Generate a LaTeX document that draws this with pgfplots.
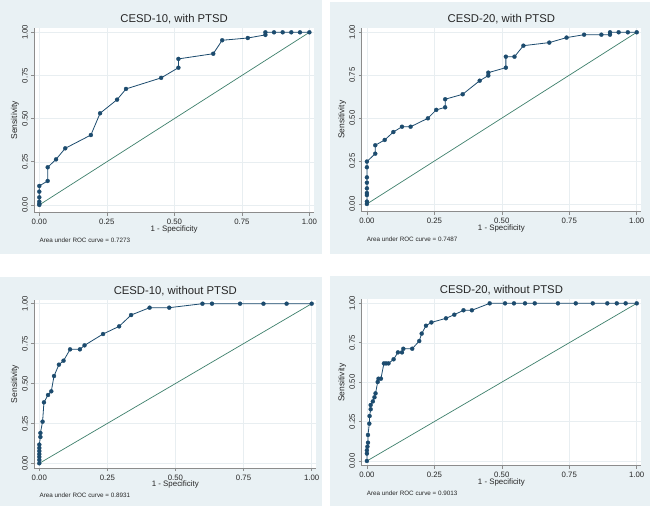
\documentclass[border=0pt]{standalone}
\usepackage{pgfplots}
\pgfplotsset{compat=1.18}
\usepackage{fontspec}
\setmainfont{Liberation Sans}
\definecolor{bgc}{HTML}{E9F1F4}
\definecolor{navyc}{HTML}{1C4B6E}
\definecolor{diagc}{HTML}{3E806C}
\definecolor{gridc}{HTML}{E8EEF1}
\definecolor{axisgray}{HTML}{8C8C8C}

\pgfplotsset{
  rocax/.style={
    scale only axis, clip=false,
    axis x line*=bottom, axis y line*=left,
    axis line style={draw=axisgray, line width=0.6pt, -},
    tick align=outside, major tick length=3pt,
    tick style={axisgray, line width=0.6pt},
    xtick={0,0.25,0.5,0.75,1}, ytick={0,0.25,0.5,0.75,1},
    xticklabels={0.00,0.25,0.50,0.75,1.00},
    yticklabels={0.00,0.25,0.50,0.75,1.00},
    grid=major, grid style={gridc, line width=0.5pt},
    axis background/.style={fill=white},
    ticklabel style={font=\fontsize{7.8}{9}\selectfont, text=black!85},
    yticklabel style={rotate=90, anchor=south},
    every axis title shift=0pt,
    title style={at={(0.5,1)}, anchor=center, yshift=9pt,
      font=\fontsize{11.3}{13}\selectfont, text=black!85},
    xlabel={1 - Specificity}, ylabel={Sensitivity},
    xlabel style={at={(0.5,0)}, anchor=center, yshift=-16.6pt,
      font=\fontsize{7.9}{9}\selectfont, text=black!85},
    ylabel style={at={(0,0.5)}, anchor=center, yshift=19.3pt,
      font=\fontsize{8.5}{9}\selectfont, text=black!85},
  },
  roc/.style={color=navyc, line width=0.8pt, mark=*, mark size=2pt,
    mark options={solid, fill=navyc, line width=0.3pt}},
}
\newcommand{\auc}[1]{\node[anchor=west, font=\fontsize{6.3}{7}\selectfont, text=black!85,
  xshift=1.8pt, yshift=-27.5pt] at (rel axis cs:0,0) {Area under ROC curve = #1};}

\begin{document}
\begin{tikzpicture}
\useasboundingbox (0pt,0pt) rectangle (652pt,512pt);
\fill[white] (0pt,0pt) rectangle (652pt,512pt);
\fill[bgc] (0pt,258pt) rectangle (322pt,512pt);
\fill[bgc] (330pt,258pt) rectangle (650pt,510pt);
\fill[bgc] (0pt,6pt) rectangle (322pt,235pt);
\fill[bgc] (330pt,6pt) rectangle (650pt,236pt);

% panel 1
\begin{axis}[rocax, at={(34.3pt,299.3pt)}, anchor=south west,
  width=279.7pt, height=184.7pt, xmin=-0.0185, xmax=1.017, ymin=-0.045, ymax=1.025,
  title={CESD-10, with PTSD}]
\addplot[diagc, line width=0.7pt] coordinates {(0,0) (1,1)};
\addplot[roc] coordinates {
 (0,0) (0,0.006) (0,0.019) (0,0.044) (0,0.077) (0,0.110)
 (0.031,0.139) (0.031,0.218) (0.062,0.264) (0.096,0.328) (0.191,0.405)
 (0.225,0.531) (0.288,0.610) (0.321,0.672) (0.451,0.736) (0.515,0.795)
 (0.515,0.846) (0.644,0.876) (0.677,0.954) (0.772,0.967) (0.837,0.985)
 (0.837,1) (0.869,1) (0.901,1) (0.933,1) (0.965,1) (1,1)
};
\auc{0.7273}
\end{axis}

% panel 2
\begin{axis}[rocax, at={(361.5pt,300.3pt)}, anchor=south west,
  width=279.8pt, height=183.7pt, xmin=-0.02, xmax=1.017, ymin=-0.045, ymax=1.025,
  title={CESD-20, with PTSD}]
\addplot[diagc, line width=0.7pt] coordinates {(0,0) (1,1)};
\addplot[roc] coordinates {
 (0,0) (0,0.014) (0,0.052) (0,0.064) (0,0.091) (0,0.124) (0,0.155)
 (0,0.214) (0,0.247) (0.031,0.293) (0.031,0.342) (0.066,0.373)
 (0.098,0.419) (0.130,0.450) (0.162,0.450) (0.226,0.499) (0.257,0.548)
 (0.290,0.563) (0.290,0.610) (0.355,0.639) (0.418,0.718) (0.450,0.748)
 (0.450,0.765) (0.515,0.794) (0.515,0.858) (0.547,0.858) (0.580,0.922)
 (0.676,0.940) (0.740,0.969) (0.805,0.986) (0.869,0.986) (0.901,0.986)
 (0.901,1) (0.933,1) (0.967,1) (1,1)
};
\auc{0.7487}
\end{axis}

% panel 3
\begin{axis}[rocax, at={(34.3pt,43.9pt)}, anchor=south west,
  width=282pt, height=168.4pt, xmin=-0.0184, xmax=1.017, ymin=-0.03, ymax=1.025,
  title={CESD-10, without PTSD}]
\addplot[diagc, line width=0.7pt] coordinates {(0,0) (1,1)};
\addplot[roc] coordinates {
 (0,0) (0,0.021) (0,0.040) (0,0.058) (0,0.077) (0,0.096) (0,0.117)
 (0.004,0.165) (0.004,0.190) (0.012,0.261) (0.017,0.382) (0.032,0.428)
 (0.044,0.451) (0.054,0.547) (0.072,0.618) (0.089,0.643) (0.113,0.714)
 (0.149,0.714) (0.166,0.739) (0.234,0.810) (0.293,0.858) (0.337,0.929)
 (0.405,0.975) (0.477,0.975) (0.599,1) (0.634,1) (0.737,1) (0.823,1)
 (0.908,1) (1,1)
};
\auc{0.8931}
\end{axis}

% panel 4
\begin{axis}[rocax, at={(361.5pt,46.3pt)}, anchor=south west,
  width=279.8pt, height=166.3pt, xmin=-0.02, xmax=1.017, ymin=-0.03, ymax=1.025,
  title={CESD-20, without PTSD}]
\addplot[diagc, line width=0.7pt] coordinates {(0,0) (1,1)};
\addplot[roc] coordinates {
 (0,0) (0,0.047) (0,0.068) (0.002,0.091) (0.004,0.116) (0.004,0.165)
 (0.009,0.237) (0.010,0.285) (0.014,0.328) (0.014,0.355) (0.022,0.378)
 (0.028,0.404) (0.032,0.429) (0.040,0.501) (0.043,0.522) (0.052,0.522)
 (0.063,0.619) (0.071,0.619) (0.080,0.619) (0.099,0.645) (0.115,0.689)
 (0.130,0.689) (0.135,0.712) (0.168,0.712) (0.194,0.761) (0.203,0.808)
 (0.219,0.858) (0.239,0.879) (0.293,0.905) (0.324,0.928) (0.358,0.956)
 (0.389,0.956) (0.455,1) (0.512,1) (0.545,1) (0.586,1) (0.622,1)
 (0.708,1) (0.774,1) (0.837,1) (0.891,1) (0.926,1) (0.959,1) (1,1)
};
\auc{0.9013}
\end{axis}
\end{tikzpicture}
\end{document}
